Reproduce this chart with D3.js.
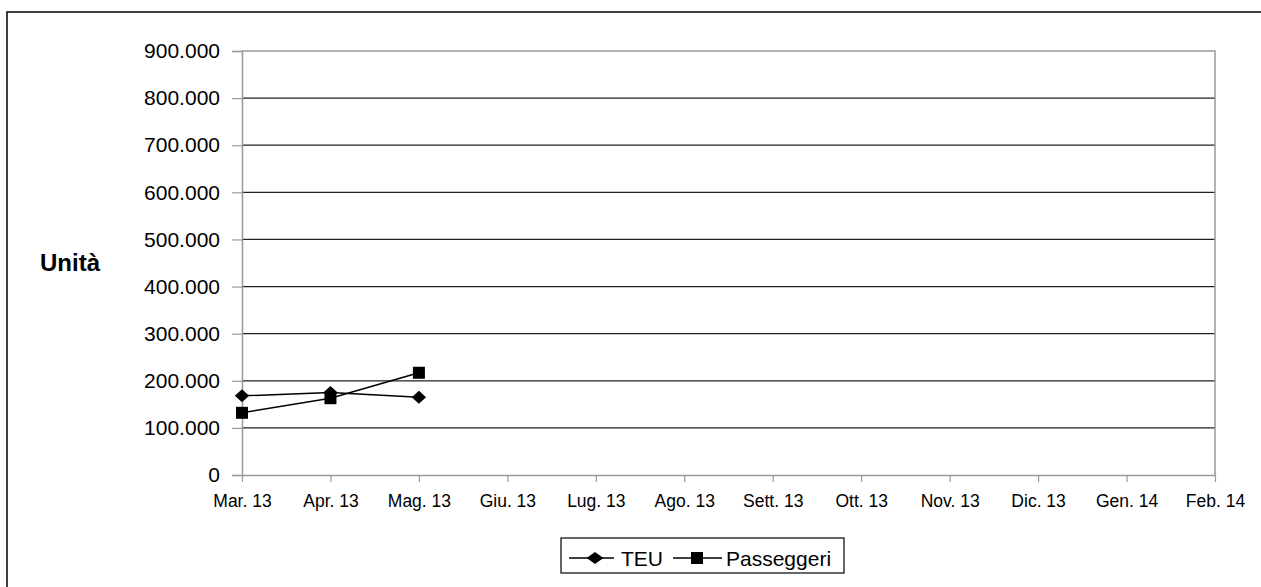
<!DOCTYPE html>
<html><head><meta charset="utf-8">
<script src="https://cdn.jsdelivr.net/npm/d3@7"></script>
<style>html,body{margin:0;padding:0;background:#fff;overflow:hidden}</style>
</head><body>
<svg id="c" width="1261" height="587"></svg>
<script>
const categories = ["Mar. 13","Apr. 13","Mag. 13","Giu. 13","Lug. 13","Ago. 13","Sett. 13","Ott. 13","Nov. 13","Dic. 13","Gen. 14","Feb. 14"];
const teu = [168000, 175000, 165000];
const passeggeri = [132000, 163000, 217000];
const yTicks = [0,100000,200000,300000,400000,500000,600000,700000,800000,900000];
const yTitle = "Unità";
const seriesNames = ["TEU","Passeggeri"];

const svg = d3.select("#c");
const font = "Liberation Sans, Arial, sans-serif";
const L = 242, R = 1215, T = 51, B = 475;

svg.append("path").attr("d","M1270,12H7V600")
  .attr("fill","none").attr("stroke","#000").attr("stroke-width",1.5);

const x = d3.scalePoint().domain(categories).range([L,R]);
const y = d3.scaleLinear().domain([0,900000]).range([B,T]);
const fmt = v => v===0 ? "0" : d3.format(",")(v).replace(/,/g,".");

// gridlines
svg.append("g").selectAll("line").data(yTicks.filter(v=>v>0 && v<900000)).join("line")
  .attr("x1",L).attr("x2",R).attr("y1",d=>y(d)).attr("y2",d=>y(d))
  .attr("stroke","#222").attr("stroke-width",1.2);
// plot border top/right
svg.append("path").attr("d",`M${L},${y(900000)}H${R}V${B}`).attr("fill","none")
  .attr("stroke","#999").attr("stroke-width",1.5);

// y axis
const yAxis = svg.append("g").attr("transform",`translate(${L},0)`)
  .call(d3.axisLeft(y).tickValues(yTicks).tickFormat(fmt).tickSize(10).tickPadding(12));
yAxis.select(".domain").attr("stroke","#999").attr("stroke-width",1.5);
yAxis.selectAll(".tick line").attr("stroke","#999").attr("stroke-width",1.2);
yAxis.selectAll("text").attr("font-family",font).attr("font-size",21).attr("fill","#000");

// x axis
const xAxis = svg.append("g").attr("transform",`translate(0,${B})`)
  .call(d3.axisBottom(x).tickSize(7).tickPadding(13).tickSizeOuter(0));
xAxis.select(".domain").attr("stroke","#999").attr("stroke-width",1.5);
xAxis.selectAll(".tick line").attr("stroke","#999").attr("stroke-width",1.2);
xAxis.selectAll("text").attr("font-family",font).attr("font-size",17.5).attr("fill","#000");

// y title
svg.append("text").attr("x",70).attr("y",271).attr("text-anchor","middle")
  .attr("font-family",font).attr("font-weight","bold").attr("font-size",24).text(yTitle);

const line = d3.line().x((d,i)=>x(categories[i])).y(d=>y(d));

svg.append("path").datum(teu).attr("d",line).attr("fill","none").attr("stroke","#000").attr("stroke-width",1.5);
svg.append("path").datum(passeggeri).attr("d",line).attr("fill","none").attr("stroke","#000").attr("stroke-width",1.5);
svg.append("g").selectAll("path").data(teu).join("path")
  .attr("transform",(d,i)=>`translate(${x(categories[i])},${y(d)}) scale(1.1,1) rotate(45)`)
  .attr("d",d3.symbol().type(d3.symbolSquare).size(85)()).attr("fill","#000");
svg.append("g").selectAll("rect").data(passeggeri).join("rect")
  .attr("x",(d,i)=>x(categories[i])-6).attr("y",d=>y(d)-6).attr("width",12).attr("height",12).attr("fill","#000");

// legend
const lg = svg.append("g");
lg.append("rect").attr("x",561).attr("y",538).attr("width",283).attr("height",35)
  .attr("fill","#fff").attr("stroke","#000").attr("stroke-width",1.2);
const ly = 558;
lg.append("line").attr("x1",569).attr("x2",614).attr("y1",ly).attr("y2",ly).attr("stroke","#000").attr("stroke-width",1.5);
lg.append("path").attr("transform",`translate(595,${ly}) scale(1.4,1) rotate(45)`).attr("d",d3.symbol().type(d3.symbolSquare).size(72)()).attr("fill","#000");
lg.append("text").attr("x",621).attr("y",ly+7.5).attr("font-family",font).attr("font-size",21).text(seriesNames[0]);
lg.append("line").attr("x1",673).attr("x2",722).attr("y1",ly).attr("y2",ly).attr("stroke","#000").attr("stroke-width",1.5);
lg.append("rect").attr("x",691).attr("y",ly-6).attr("width",12).attr("height",12).attr("fill","#000");
lg.append("text").attr("x",726).attr("y",ly+7.5).attr("font-family",font).attr("font-size",21).text(seriesNames[1]);
</script>
</body></html>
